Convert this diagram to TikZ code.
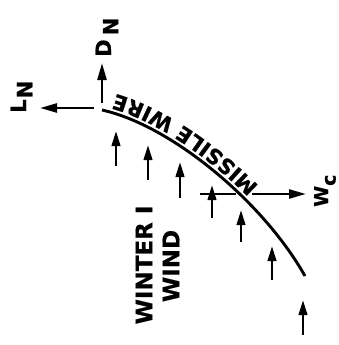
\documentclass[tikz,border=0pt]{standalone}
\usepackage{fontspec}
\newfontfamily\djv{DejaVu Sans}[BoldFeatures={FakeBold=0.6}]
\usetikzlibrary{arrows.meta,decorations.text}
\begin{document}
\begin{tikzpicture}[x=1pt,y=-1pt,
  windarrow/.style={line width=2.5pt,-{Triangle[length=15pt,width=8.5pt]}},
  bigarrow/.style={line width=2.5pt,-{Triangle[length=17pt,width=9pt]}},
  plainline/.style={line width=2.5pt},
  wire/.style={line width=2.9pt},
  lbl/.style={font=\djv\bfseries\fontsize{21}{21}\selectfont, rotate=90, inner sep=0pt},
  windlbl/.style={font=\djv\bfseries\fontsize{23}{23}\selectfont, rotate=90, inner sep=0pt}]
\useasboundingbox (0,0) rectangle (339,345);
% wire
\coordinate (o) at (102,110);
\coordinate (e) at (305,276);
\draw[wire] (o) .. controls (170,125) and (262,200) .. (e);
\path[decorate, decoration={text along path,
   text={|\djv\bfseries\fontsize{21}{21}\selectfont|MISSILE WIRE},
   raise=-19pt, text align={left indent=97pt}}]
   (e) .. controls (262,200) and (170,125) .. (o);
% force arrows at origin
\coordinate (dns) at (102,103); \coordinate (dnt) at (102,63);
\coordinate (lns) at (94,108);  \coordinate (lnt) at (40,108);
\draw[bigarrow] (dns) -- (dnt);
\draw[bigarrow] (lns) -- (lnt);
\node[lbl, anchor=base west] (dn) at (111,57) {D\kern0.2em\raisebox{-0.35em}{N}};
\node[lbl, anchor=base west] (ln) at (26,113) {L\kern0.05em\raisebox{-0.3em}{N}};
% wind arrows
\foreach \n/\x/\ya/\yb in {1/116/166/131, 2/148/180/145, 3/180/198/162, 4/212/218/185,
                          5/241/242/210, 6/272/280/246, 7/303/335/300}{
  \coordinate (w\n s) at (\x,\ya);
  \coordinate (w\n t) at (\x,\yb);
  \draw[windarrow] (w\n s) -- (w\n t);
}
% W_c arrow
\coordinate (wca) at (200,194); \coordinate (wcb) at (236,194);
\coordinate (wcs) at (252,194); \coordinate (wct) at (306,194);
\draw[plainline] (wca) -- (wcb);
\draw[bigarrow] (wcs) -- (wct);
\node[lbl, font=\djv\bfseries\fontsize{19}{19}\selectfont, anchor=base west] (wc) at (328,207) {W\raisebox{-0.4em}{c}};
% wind label
\node[windlbl] (wl1) at (144,265) {WINTER Ⅰ};
\node[windlbl] (wl2) at (171,266) {WIND};
\end{tikzpicture}
\end{document}
